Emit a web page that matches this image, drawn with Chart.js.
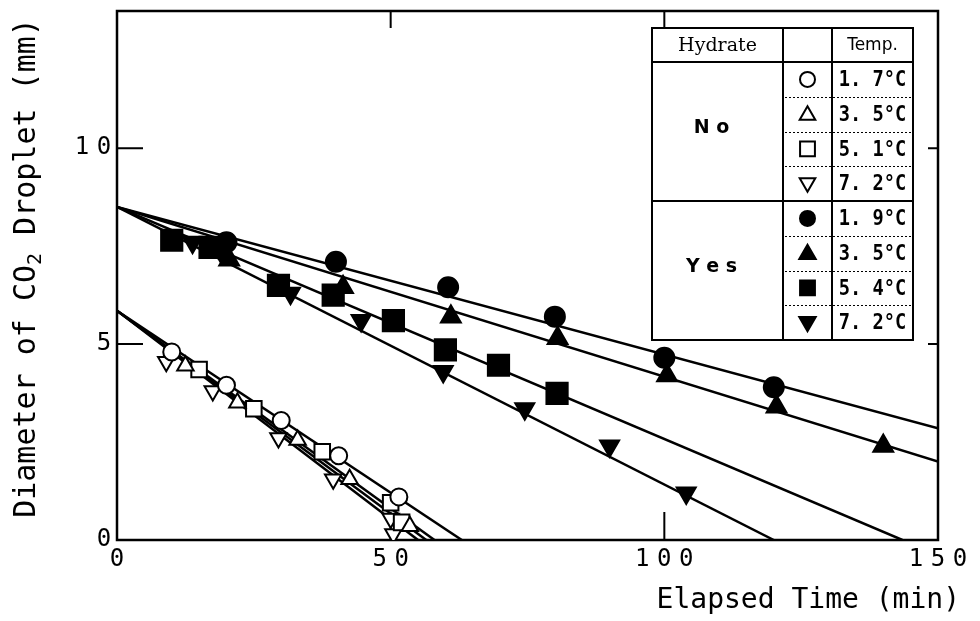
<!DOCTYPE html>
<html>
<head>
<meta charset="utf-8">
<title>CO2 droplet diameter</title>
<script src="https://cdn.jsdelivr.net/npm/chart.js@4.4.1/dist/chart.umd.min.js"></script>
<style>
  html, body { margin: 0; padding: 0; background: #fff; }
</style>
</head>
<body>
<canvas id="myChart" width="980" height="621"></canvas>
<script>
// measured droplets: elapsed time (min) and diameter (mm)
var noT17 = [10, 20, 30, 40.5, 51.5];
var noD17 = [4.8, 3.95, 3.05, 2.15, 1.1];
var noT35 = [12.5, 22, 33, 42.5, 53.5];
var noD35 = [4.45, 3.5, 2.55, 1.55, 0.35];
var noT51 = [15, 25, 37.5, 50, 52];
var noD51 = [4.35, 3.35, 2.25, 0.95, 0.45];
var noT72 = [9, 17.5, 29.5, 39.5, 50, 50.5];
var noD72 = [4.55, 3.8, 2.6, 1.55, 0.55, 0.15];

var yesT19 = [20, 40, 60.5, 80, 100, 120];
var yesD19 = [7.6, 7.1, 6.45, 5.7, 4.65, 3.9];
var yesT35 = [20.5, 41.3, 61, 80.5, 100.5, 120.5, 140];
var yesD35 = [7.15, 6.45, 5.7, 5.15, 4.2, 3.4, 2.4];
var yesT54 = [10, 17, 29.5, 39.5, 50.5, 60, 69.7, 80.4];
var yesD54 = [7.65, 7.47, 6.5, 6.25, 5.6, 4.85, 4.46, 3.74];
var yesT72 = [13.8, 19, 31.7, 44.6, 59.6, 74.5, 90, 104];
var yesD72 = [7.6, 7.35, 6.3, 5.6, 4.3, 3.35, 2.4, 1.2];

// straight fits, start and end of each line
var fitNoT17 = [0, 63],    fitNoD17 = [5.85, 0];
var fitNoT35 = [0, 56.5],  fitNoD35 = [5.85, 0];
var fitNoT51 = [0, 58],    fitNoD51 = [5.85, 0];
var fitNoT72 = [0, 55],    fitNoD72 = [5.85, 0];
var fitYesT19 = [0, 150],  fitYesD19 = [8.5, 2.85];
var fitYesT35 = [0, 150],  fitYesD35 = [8.5, 2.0];
var fitYesT54 = [0, 143.5], fitYesD54 = [8.5, 0];
var fitYesT72 = [0, 120],  fitYesD72 = [8.5, 0];

var hydrateGroups = ['N o', 'Y e s'];
var tempLabels = ['1. 7°C', '3. 5°C', '5. 1°C', '7. 2°C', '1. 9°C', '3. 5°C', '5. 4°C', '7. 2°C'];
var xTicks = [0, 50, 100, 150];
var yTicks = [0, 5, 10];

var MONO = '"DejaVu Sans Mono", "Liberation Mono", monospace';

function pts(xs, ys) {
    return xs.map(function (x, i) { return { x: x, y: ys[i] }; });
}

// marker look for each run, same order as tempLabels
var marks = [
    { t: noT17, d: noD17, style: 'circle', r: 8.5, rot: 0, fill: '#fff', lr: 7.5 },
    { t: noT35, d: noD35, style: 'triangle', r: 9.5, rot: 0, fill: '#fff', lr: 9 },
    { t: noT51, d: noD51, style: 'rect', r: 11, rot: 0, fill: '#fff', lr: 10.5 },
    { t: noT72, d: noD72, style: 'triangle', r: 9.5, rot: 180, fill: '#fff', lr: 9 },
    { t: yesT19, d: yesD19, style: 'circle', r: 10, rot: 0, fill: '#000', lr: 7.5 },
    { t: yesT35, d: yesD35, style: 'triangle', r: 11.5, rot: 0, fill: '#000', lr: 9.5 },
    { t: yesT54, d: yesD54, style: 'rect', r: 15, rot: 0, fill: '#000', lr: 10.5 },
    { t: yesT72, d: yesD72, style: 'triangle', r: 11, rot: 180, fill: '#000', lr: 9.5 }
];
var fits = [
    [fitNoT17, fitNoD17], [fitNoT35, fitNoD35], [fitNoT51, fitNoD51], [fitNoT72, fitNoD72],
    [fitYesT19, fitYesD19], [fitYesT35, fitYesD35], [fitYesT54, fitYesD54], [fitYesT72, fitYesD72]
];

var datasets = [];
marks.forEach(function (m, i) {
    datasets.push({
        label: tempLabels[i],
        data: pts(m.t, m.d),
        pointStyle: m.style,
        pointRadius: m.r,
        pointRotation: m.rot,
        pointBackgroundColor: m.fill,
        pointBorderColor: '#000',
        pointBorderWidth: 2,
        showLine: false,
        order: 0
    });
});
fits.forEach(function (f) {
    datasets.push({
        data: pts(f[0], f[1]),
        showLine: true,
        borderColor: '#000',
        borderWidth: 2.5,
        pointRadius: 0,
        order: 1
    });
});

// draw a string one character per fixed cell, centred on cx
function spaced(ctx, str, cx, cy, pitch) {
    var x0 = cx - (str.length - 1) * pitch / 2;
    for (var i = 0; i < str.length; i++) {
        ctx.fillText(str[i], x0 + i * pitch, cy);
    }
}

var framePlugin = {
    id: 'frame',
    beforeDatasetsDraw: function (chart) {
        var ctx = chart.ctx, a = chart.chartArea;
        var xs = chart.scales.x, ys = chart.scales.y;
        ctx.save();
        ctx.strokeStyle = '#000';
        ctx.lineWidth = 2.5;
        ctx.strokeRect(a.left, a.top, a.right - a.left, a.bottom - a.top);
        ctx.lineWidth = 2;
        ctx.beginPath();
        xTicks.forEach(function (v) {
            if (v <= xs.min || v >= xs.max) return;
            var px = xs.getPixelForValue(v);
            ctx.moveTo(px, a.bottom); ctx.lineTo(px, a.bottom - 28);
            ctx.moveTo(px, a.top); ctx.lineTo(px, a.top + 17);
        });
        yTicks.forEach(function (v) {
            if (v <= ys.min || v >= ys.max) return;
            var py = ys.getPixelForValue(v);
            ctx.moveTo(a.left, py); ctx.lineTo(a.left + 26, py);
            ctx.moveTo(a.right, py); ctx.lineTo(a.right - 10, py);
        });
        ctx.stroke();
        ctx.restore();
    },
    afterDraw: function (chart) {
        var ctx = chart.ctx, a = chart.chartArea;
        var xs = chart.scales.x, ys = chart.scales.y;
        ctx.save();
        ctx.fillStyle = '#000';

        // tick labels
        ctx.font = '24px ' + MONO;
        ctx.textAlign = 'center';
        ctx.textBaseline = 'middle';
        xTicks.forEach(function (v) {
            spaced(ctx, String(v), xs.getPixelForValue(v), 560, 22);
        });
        yTicks.forEach(function (v) {
            var s = String(v);
            spaced(ctx, s, 104 - (s.length - 1) * 11, ys.getPixelForValue(v), 22);
        });

        // axis titles
        ctx.font = '28px ' + MONO;
        ctx.textAlign = 'right';
        ctx.textBaseline = 'alphabetic';
        ctx.fillText('Elapsed Time (min)', 960, 608);

        ctx.save();
        ctx.translate(24, 268);
        ctx.rotate(-Math.PI / 2);
        ctx.textAlign = 'left';
        var big = '30px ' + MONO, small = '20px ' + MONO;
        var p1 = 'Diameter of CO', p2 = '2', p3 = ' Droplet (mm)';
        ctx.font = big;
        var w1 = ctx.measureText(p1).width, w3 = ctx.measureText(p3).width;
        ctx.font = small;
        var w2 = ctx.measureText(p2).width;
        var x = -(w1 + w2 + w3) / 2;
        ctx.font = big; ctx.fillText(p1, x, 11);
        ctx.font = small; ctx.fillText(p2, x + w1, 17);
        ctx.font = big; ctx.fillText(p3, x + w1 + w2, 11);
        ctx.restore();

        // key table
        var L = { left: 652, top: 28, right: 913, bottom: 340, col1: 783, col2: 832, head: 62 };
        var rowH = (L.bottom - L.head) / tempLabels.length;
        ctx.fillStyle = '#fff';
        ctx.fillRect(L.left, L.top, L.right - L.left, L.bottom - L.top);
        ctx.strokeStyle = '#000';
        ctx.lineWidth = 2;
        ctx.strokeRect(L.left, L.top, L.right - L.left, L.bottom - L.top);
        ctx.beginPath();
        ctx.moveTo(L.col1, L.top); ctx.lineTo(L.col1, L.bottom);
        ctx.moveTo(L.col2, L.top); ctx.lineTo(L.col2, L.bottom);
        ctx.moveTo(L.left, L.head); ctx.lineTo(L.right, L.head);
        ctx.moveTo(L.left, L.head + rowH * 4); ctx.lineTo(L.right, L.head + rowH * 4);
        ctx.stroke();
        ctx.save();
        ctx.lineWidth = 1;
        ctx.setLineDash([2, 2]);
        ctx.beginPath();
        for (var i = 1; i < tempLabels.length; i++) {
            if (i === 4) continue;
            var yy = Math.round(L.head + rowH * i) + 0.5;
            ctx.moveTo(L.col1 + 2, yy); ctx.lineTo(L.right - 2, yy);
        }
        ctx.stroke();
        ctx.restore();

        ctx.fillStyle = '#000';
        ctx.textAlign = 'center';
        ctx.textBaseline = 'middle';
        ctx.font = '19px "DejaVu Serif", serif';
        ctx.fillText('Hydrate', (L.left + L.col1) / 2, (L.top + L.head) / 2 + 1);
        ctx.font = '17px "DejaVu Sans", sans-serif';
        ctx.fillText('Temp.', (L.col2 + L.right) / 2, (L.top + L.head) / 2 + 1);
        ctx.font = 'bold 19px "DejaVu Sans", sans-serif';
        hydrateGroups.forEach(function (g, k) {
            ctx.fillText(g, (L.left + L.col1) / 2 - 6, L.head + rowH * (k * 4 + 2) - 3);
        });

        tempLabels.forEach(function (t, k) {
            var cy = L.head + rowH * (k + 0.5);
            var m = marks[k];
            ctx.fillStyle = m.fill;
            ctx.strokeStyle = '#000';
            Chart.helpers.drawPoint(ctx, {
                pointStyle: m.style, radius: m.lr, rotation: m.rot, borderWidth: 2
            }, (L.col1 + L.col2) / 2, cy + (m.style === 'triangle' ? (m.rot ? -1 : 1) : 0));
            ctx.fillStyle = '#000';
            ctx.save();
            ctx.translate((L.col2 + L.right) / 2, cy + 1);
            ctx.scale(0.85, 1);
            ctx.font = 'bold 22px ' + MONO;
            ctx.fillText(t, 0, 0);
            ctx.restore();
        });

        ctx.restore();
    }
};

var ctx = document.getElementById('myChart').getContext('2d');
var myChart = new Chart(ctx, {
    type: 'scatter',
    data: { datasets: datasets },
    options: {
        responsive: false,
        animation: false,
        layout: { autoPadding: false, padding: { top: 11, right: 42, bottom: 0, left: 0 } },
        plugins: { legend: { display: false }, tooltip: { enabled: false } },
        scales: {
            x: {
                type: 'linear', min: 0, max: 150,
                grid: { display: false }, border: { display: false },
                ticks: { display: false },
                afterFit: function (s) { s.height = 81; }
            },
            y: {
                type: 'linear', min: 0, max: 13.5,
                grid: { display: false }, border: { display: false },
                ticks: { display: false },
                afterFit: function (s) { s.width = 117; }
            }
        }
    },
    plugins: [framePlugin]
});
</script>
</body>
</html>
